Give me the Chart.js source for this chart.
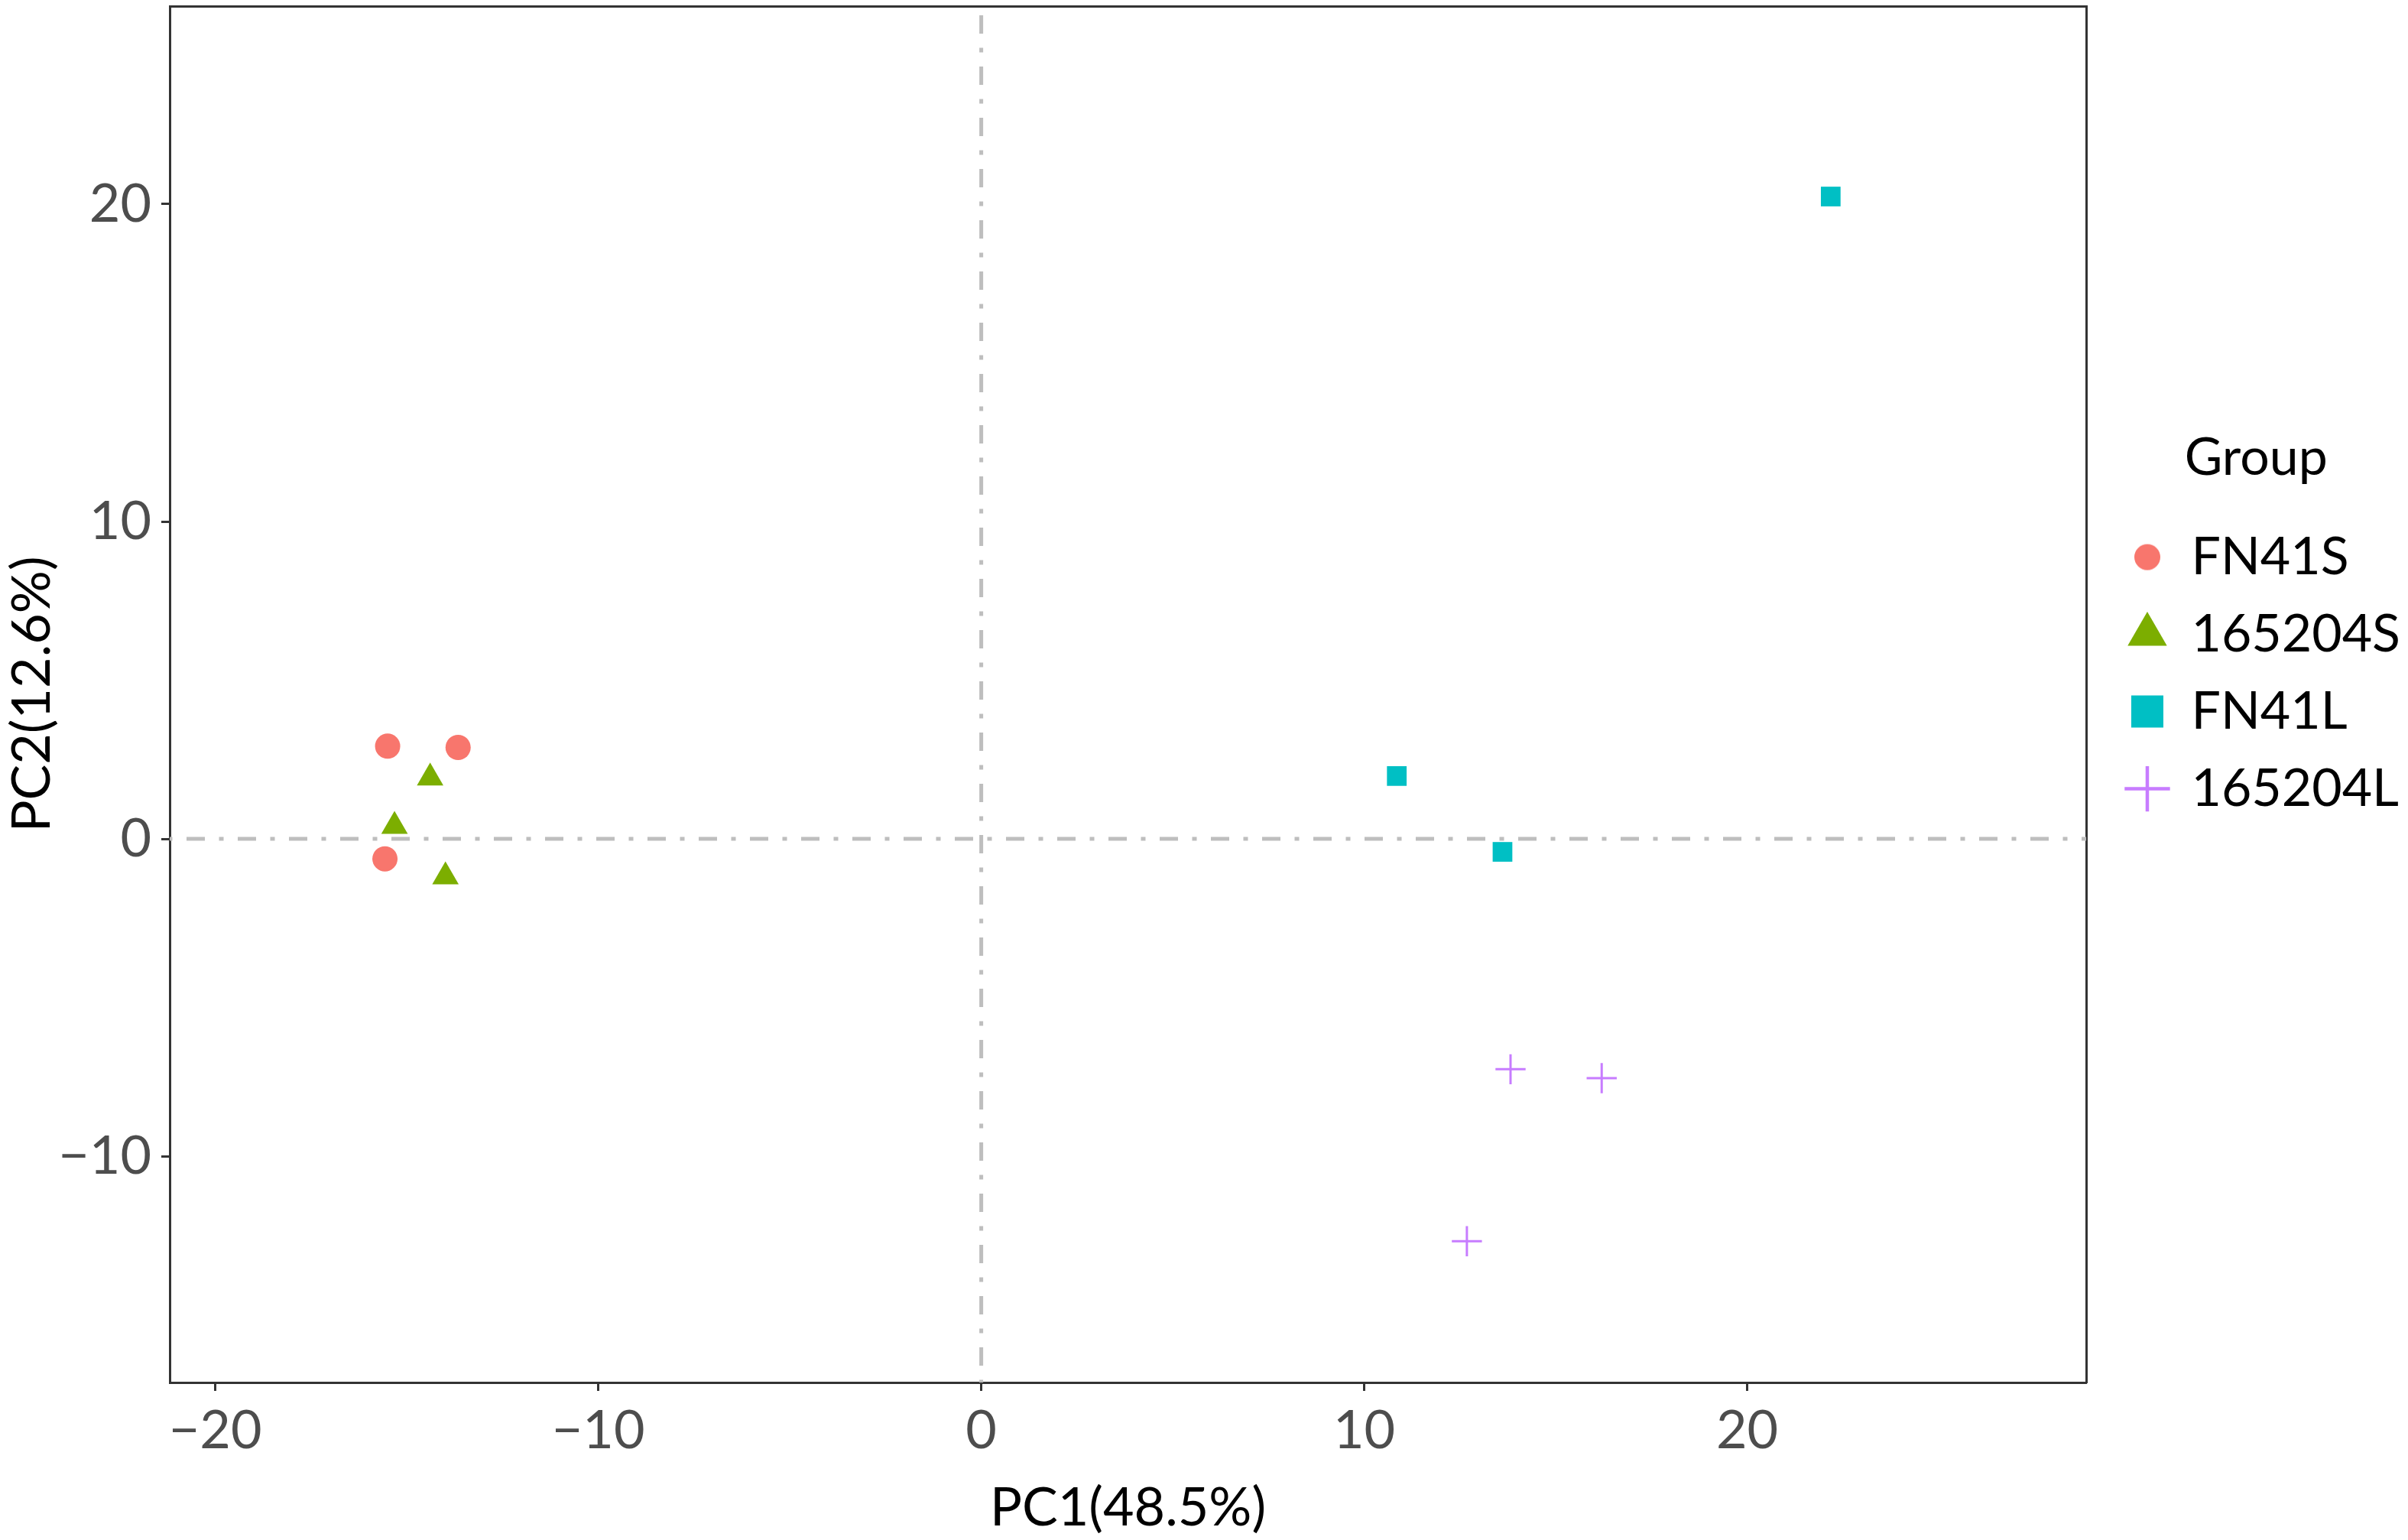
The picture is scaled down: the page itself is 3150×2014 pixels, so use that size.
<!DOCTYPE html>
<html>
<head>
<meta charset="utf-8">
<script src="https://cdn.jsdelivr.net/npm/chart.js@4.4.1/dist/chart.umd.min.js"></script>
<style>
  html, body { margin: 0; padding: 0; background: #fff; }
</style>
</head>
<body>
<canvas id="pca" width="3150" height="2014"></canvas>
<script>
// groups and their sample scores
const groups = ['FN41S', '165204S', 'FN41L', '165204L'];
const colors = ['#F8766D', '#7CAE00', '#00BFC4', '#C77CFF'];
const shapes = ['circle', 'triangle', 'rect', 'cross'];
const sizes = [16.5, 20, 18.2, 19.7];

const pc1 = [
  [-15.50, -13.66, -15.57],
  [-14.39, -15.32, -13.99],
  [10.85, 13.61, 22.18],
  [13.82, 16.20, 12.68]
];
const pc2 = [
  [2.92, 2.88, -0.63],
  [1.92, 0.40, -1.19],
  [1.98, -0.41, 20.24],
  [-7.26, -7.54, -12.68]
];

const xTicks = [-20, -10, 0, 10, 20];
const yTicks = [-10, 0, 10, 20];
const xRange = [-21.19, 28.85];
const yRange = [-17.13, 26.24];
const refX = 0;
const refY = 0;

const fmt = v => (v < 0 ? '\u2212' + Math.abs(v) : String(v));
const font = size => ({ family: 'Lato', size: size });

// small dot for the legend (legend circle is smaller than the other keys)
const dot = document.createElement('canvas');
dot.width = 36;
dot.height = 36;
const dctx = dot.getContext('2d');
dctx.fillStyle = colors[0];
dctx.beginPath();
dctx.arc(18, 18, 17, 0, Math.PI * 2);
dctx.fill();

const datasets = groups.map((g, i) => ({
  label: g,
  data: pc1[i].map((x, j) => ({ x: x, y: pc2[i][j] })),
  xAxisID: 'x',
  yAxisID: 'y',
  pointStyle: shapes[i],
  pointRadius: sizes[i],
  pointHoverRadius: sizes[i],
  backgroundColor: colors[i],
  borderColor: colors[i],
  borderWidth: shapes[i] === 'cross' ? 3 : 0
}));

// dot-dash lines through the origin
const refLines = {
  id: 'refLines',
  beforeDatasetsDraw(chart) {
    const { ctx, chartArea: a, scales } = chart;
    const px = scales.x.getPixelForValue(refX);
    const py = scales.y.getPixelForValue(refY);
    ctx.save();
    ctx.strokeStyle = '#BEBEBE';
    ctx.lineWidth = 5;
    ctx.setLineDash([24, 18.5, 6, 18.5]);
    ctx.lineDashOffset = -22;
    ctx.beginPath();
    ctx.moveTo(a.left, py);
    ctx.lineTo(a.right, py);
    ctx.moveTo(px, a.bottom);
    ctx.lineTo(px, a.top);
    ctx.stroke();
    ctx.restore();
  }
};

const tickGrid = { drawOnChartArea: false, drawTicks: true, tickLength: 11, tickWidth: 3, tickColor: '#333333' };
const frame = { display: true, color: '#333333', width: 3 };

new Chart(document.getElementById('pca'), {
  type: 'scatter',
  data: { datasets: datasets },
  options: {
    responsive: false,
    animation: false,
    devicePixelRatio: 1,
    layout: { padding: 0, autoPadding: false },
    scales: {
      x: {
        type: 'linear',
        position: 'bottom',
        min: xRange[0],
        max: xRange[1],
        afterBuildTicks: s => { s.ticks = xTicks.map(v => ({ value: v })); },
        afterFit: s => { s.height = 206; s.paddingLeft = 0; s.paddingRight = 0; },
        grid: tickGrid,
        border: frame,
        ticks: { color: '#4D4D4D', font: font(70), padding: 10, maxRotation: 0, autoSkip: false, callback: fmt },
        title: { display: true, text: 'PC1(48.5%)', color: '#000', font: font(70), padding: { top: 0, bottom: 0 } }
      },
      y: {
        type: 'linear',
        position: 'left',
        min: yRange[0],
        max: yRange[1],
        afterBuildTicks: s => { s.ticks = yTicks.map(v => ({ value: v })); },
        afterFit: s => { s.width = 222; s.paddingTop = 0; s.paddingBottom = 0; },
        grid: tickGrid,
        border: frame,
        ticks: { color: '#4D4D4D', font: font(70), padding: 13, autoSkip: false, callback: fmt },
        title: { display: true, text: 'PC2(12.6%)', color: '#000', font: font(70), padding: { top: 0, bottom: 0 } }
      },
      // top and right edges of the panel frame
      xTop: {
        type: 'linear',
        position: 'top',
        grid: { display: false },
        ticks: { display: false },
        border: frame,
        afterFit: s => { s.height = 8; s.paddingLeft = 0; s.paddingRight = 0; }
      },
      yRight: {
        type: 'linear',
        position: 'right',
        grid: { display: false },
        ticks: { display: false },
        border: frame,
        afterFit: s => {
          s.width = Math.max(0, 3150 - 2729 - s.chart.legend.width);
          s.paddingTop = 0;
          s.paddingBottom = 0;
        }
      }
    },
    plugins: {
      tooltip: { enabled: false },
      legend: {
        position: 'right',
        align: 'start',
        title: {
          display: true,
          text: 'Group',
          color: '#000',
          font: font(68),
          padding: { top: 565, bottom: 15 }
        },
        labels: {
          usePointStyle: true,
          boxWidth: 47,
          boxHeight: 42,
          padding: 33,
          color: '#000',
          font: font(68),
          generateLabels(chart) {
            const items = Chart.defaults.plugins.legend.labels.generateLabels(chart);
            items.forEach((it, i) => {
              if (shapes[i] === 'circle') it.pointStyle = dot;
              if (shapes[i] === 'cross') it.lineWidth = 4.5;
            });
            return items;
          }
        }
      }
    }
  },
  plugins: [refLines]
});
</script>
</body>
</html>
